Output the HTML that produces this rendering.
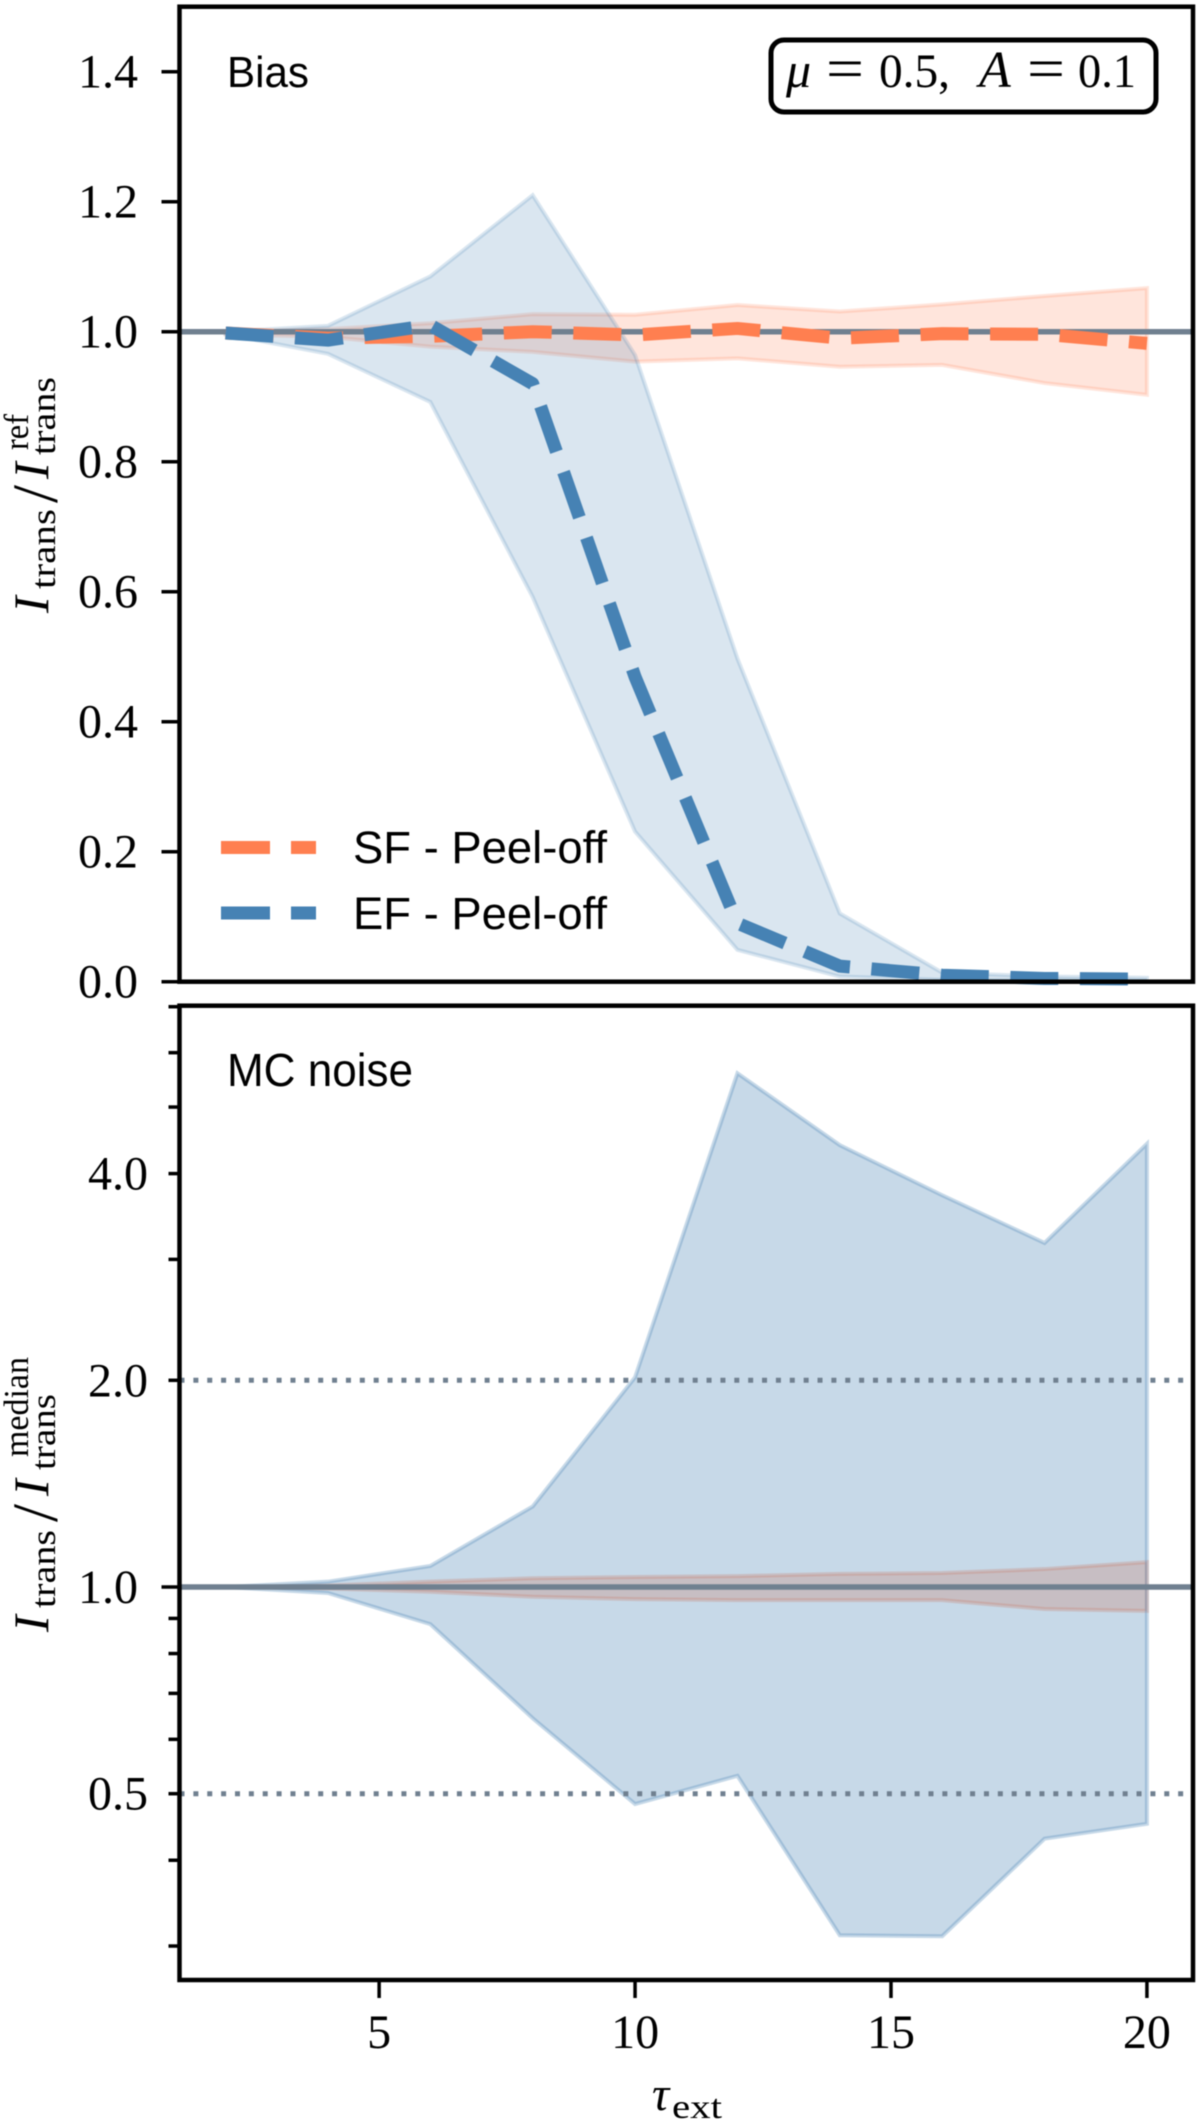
<!DOCTYPE html>
<html lang="en">
<head>
<meta charset="utf-8">
<title>Bias and MC noise vs optical depth</title>
<style>
html,body{margin:0;padding:0;background:#fff;}
svg{display:block;filter:blur(0.5px);}
text{fill:#000;}
.num{font-family:"Liberation Serif",serif;font-size:48px;}
.it{font-family:"Liberation Serif",serif;font-style:italic;}
.rm{font-family:"Liberation Serif",serif;}
.sans{font-family:"Liberation Sans",sans-serif;}
</style>
</head>
<body>
<svg id="chart" xmlns="http://www.w3.org/2000/svg" width="1200" height="2122" viewBox="0 0 1200 2122">
  <rect x="0" y="0" width="1200" height="2122" fill="#fff"/>
  <g id="bands"></g>
  <g id="marks"></g>
  <g id="frames"></g>
  <g id="ticks"></g>
  <g id="ticklabels"></g>

  <text class="sans" x="227" y="87" font-size="44" textLength="82" lengthAdjust="spacingAndGlyphs">Bias</text>
  <text class="sans" x="227" y="1086" font-size="46" textLength="186" lengthAdjust="spacingAndGlyphs">MC noise</text>

  <g>
    <rect x="771" y="40" width="385" height="72" rx="13" ry="13" fill="#fff" stroke="#000" stroke-width="5"/>
    <text class="it" x="786" y="87" font-size="50">μ</text>
    <text class="rm" x="826" y="88" font-size="58" textLength="38" lengthAdjust="spacingAndGlyphs">=</text>
    <text class="num" x="879" y="87" textLength="71" lengthAdjust="spacingAndGlyphs">0.5,</text>
    <text class="it" x="979" y="87" font-size="52">A</text>
    <text class="rm" x="1027" y="88" font-size="58" textLength="38" lengthAdjust="spacingAndGlyphs">=</text>
    <text class="num" x="1078" y="87" textLength="58" lengthAdjust="spacingAndGlyphs">0.1</text>
  </g>

  <g>
    <line x1="221" x2="316" y1="847.5" y2="847.5" stroke="#ff7f50" stroke-width="13" stroke-dasharray="49 21"/>
    <text class="sans" x="353" y="863" font-size="45" textLength="254" lengthAdjust="spacingAndGlyphs">SF - Peel-off</text>
    <line x1="221" x2="316" y1="913" y2="913" stroke="#4682b4" stroke-width="13" stroke-dasharray="49 21"/>
    <text class="sans" x="353" y="929" font-size="45" textLength="254" lengthAdjust="spacingAndGlyphs">EF - Peel-off</text>
  </g>

  <g transform="translate(48,613) rotate(-90)">
    <text class="it" x="0" y="0" font-size="50">I</text>
    <text class="rm" x="24" y="7" font-size="35" textLength="80" lengthAdjust="spacingAndGlyphs">trans</text>
    <text class="rm" x="110" y="9" font-size="65">/</text>
    <text class="it" x="134" y="0" font-size="50">I</text>
    <text class="rm" x="163" y="-20" font-size="35" textLength="36" lengthAdjust="spacingAndGlyphs">ref</text>
    <text class="rm" x="158" y="7" font-size="35" textLength="78" lengthAdjust="spacingAndGlyphs">trans</text>
  </g>

  <g transform="translate(48,1632) rotate(-90)">
    <text class="it" x="0" y="0" font-size="50">I</text>
    <text class="rm" x="24" y="7" font-size="35" textLength="78" lengthAdjust="spacingAndGlyphs">trans</text>
    <text class="rm" x="110" y="9" font-size="65">/</text>
    <text class="it" x="136" y="0" font-size="50">I</text>
    <text class="rm" x="175" y="-20" font-size="35" textLength="100" lengthAdjust="spacingAndGlyphs">median</text>
    <text class="rm" x="162" y="7" font-size="35" textLength="76" lengthAdjust="spacingAndGlyphs">trans</text>
  </g>

  <g>
    <text class="it" x="652" y="2110" font-size="48">τ</text>
    <text class="rm" x="672" y="2118" font-size="34" textLength="50" lengthAdjust="spacingAndGlyphs">ext</text>
  </g>
</svg>

<script>
// Shared x values (optical depth)
const tauExt = [2, 4, 6, 8, 10, 12, 14, 16, 18, 20];

// Bias panel
const biasEfMean = [0.998, 0.987, 1.010, 0.920, 0.469, 0.090, 0.024, 0.010, 0.005, 0.004];
const biasEfUpper = [1.000, 1.009, 1.085, 1.210, 0.964, 0.497, 0.105, 0.014, 0.008, 0.006];
const biasEfLower = [0.996, 0.966, 0.892, 0.592, 0.231, 0.049, 0.008, 0.003, 0.002, 0.002];
const biasSfMean = [0.998, 0.990, 0.993, 1.000, 0.995, 1.005, 0.990, 0.997, 0.996, 0.982];
const biasSfUpper = [1.000, 1.004, 1.013, 1.027, 1.026, 1.041, 1.031, 1.042, 1.055, 1.067];
const biasSfLower = [0.996, 0.992, 0.977, 0.969, 0.954, 0.959, 0.946, 0.949, 0.921, 0.903];

// MC noise panel
const noiseEfUpper = [1.000, 1.018, 1.073, 1.310, 2.020, 5.600, 4.400, 3.720, 3.170, 4.420];
const noiseEfLower = [1.000, 0.980, 0.883, 0.644, 0.483, 0.531, 0.311, 0.310, 0.430, 0.452];
const noiseSfUpper = [1.000, 1.005, 1.018, 1.030, 1.034, 1.037, 1.045, 1.048, 1.062, 1.087];
const noiseSfLower = [1.000, 0.995, 0.984, 0.968, 0.960, 0.957, 0.957, 0.957, 0.929, 0.923];

// Tick values and labels
const biasTicks = [0, 0.2, 0.4, 0.6, 0.8, 1.0, 1.2, 1.4];
const biasTickLabels = ["0.0", "0.2", "0.4", "0.6", "0.8", "1.0", "1.2", "1.4"];
const noiseMajorTicks = [1];
const noiseMajorLabels = ["1.0"];
const noiseLabelledMinorTicks = [0.5, 2, 4];
const noiseLabelledMinorLabels = ["0.5", "2.0", "4.0"];
const noiseMinorTicks = [0.3, 0.4, 0.6, 0.7, 0.8, 0.9, 3, 5, 6, 7];
const xTicks = [5, 10, 15, 20];
const xTickLabels = ["5", "10", "15", "20"];
const noiseGuides = [0.5, 2];
const referenceLevel = [1];

// Axis domain limits
const xLimits = [1.1, 20.9];
const biasLimits = [0, 1.5];

const NS = 'http://www.w3.org/2000/svg';
const left = 179.5, right = 1193;
const topA = 981.7, topB = 6.7;
const botTop = 1005.7, botBase = 1980;

function xScale(v) {
  return left + (v - xLimits[0]) / (xLimits[1] - xLimits[0]) * (right - left);
}
function yBias(v) {
  return topA + (v - biasLimits[0]) / (biasLimits[1] - biasLimits[0]) * (topB - topA);
}
function yNoise(v) {
  return 1587 - 206.7 * Math.log2(v);
}
function make(tag, attrs, parent) {
  const n = document.createElementNS(NS, tag);
  for (const k in attrs) n.setAttribute(k, attrs[k]);
  document.getElementById(parent).appendChild(n);
  return n;
}
function bandPoints(upper, lower, yf) {
  const a = tauExt.map((t, i) => xScale(t).toFixed(2) + ',' + yf(upper[i]).toFixed(2));
  const b = tauExt.map((t, i) => xScale(t).toFixed(2) + ',' + yf(lower[i]).toFixed(2)).reverse();
  return a.concat(b).join(' ');
}
function linePoints(values, yf) {
  return tauExt.map((t, i) => xScale(t).toFixed(2) + ',' + yf(values[i]).toFixed(2)).join(' ');
}
function band(upper, lower, yf, color, op) {
  return make('polygon', {
    points: bandPoints(upper, lower, yf), fill: color, 'fill-opacity': op,
    stroke: color, 'stroke-opacity': op, 'stroke-width': 4, 'stroke-linejoin': 'miter'
  }, 'bands');
}
function meanLine(values, yf, color) {
  return make('polyline', {
    points: linePoints(values, yf), fill: 'none', stroke: color,
    'stroke-width': 13, 'stroke-dasharray': '48 21.6', 'stroke-linejoin': 'round'
  }, 'marks');
}
function hline(y, w, dash) {
  const attrs = { x1: left, x2: right, y1: y, y2: y, stroke: '#708090', 'stroke-width': w };
  if (dash) attrs['stroke-dasharray'] = dash;
  return make('line', attrs, 'marks');
}
function yTick(y, len) {
  return make('line', { x1: left - len, x2: left, y1: y, y2: y, stroke: '#000', 'stroke-width': 3.5 }, 'ticks');
}
function yLabel(y, x, s) {
  const t = make('text', { x: x, y: y + 16, 'text-anchor': 'end', class: 'num' }, 'ticklabels');
  t.textContent = s;
  return t;
}

// Bias panel bands: orange below, blue on top
const b2 = band(biasSfUpper, biasSfLower, yBias, '#ff7f50', 0.2);


const b1 = band(biasEfUpper, biasEfLower, yBias, '#4682b4', 0.2);



// Noise panel bands: orange below, blue on top
const b4 = band(noiseSfUpper, noiseSfLower, yNoise, '#ff7f50', 0.3);


const b3 = band(noiseEfUpper, noiseEfLower, yNoise, '#4682b4', 0.3);



// Reference lines
const r1 = hline(yBias(referenceLevel[0]), 5.5);


const r2 = hline(yNoise(referenceLevel[0]), 5.5);


noiseGuides.forEach(function (v) {
  const g = hline(yNoise(v), 5, '5 8.87');
  
  
});

// Mean lines
const m1 = meanLine(biasSfMean, yBias, '#ff7f50');


const m2 = meanLine(biasEfMean, yBias, '#4682b4');



// Axes frames
const f1 = make('rect', { x: left, y: topB, width: right - left, height: topA - topB, fill: 'none', stroke: '#000', 'stroke-width': 4.5 }, 'frames');


const f2 = make('rect', { x: left, y: botTop, width: right - left, height: botBase - botTop, fill: 'none', stroke: '#000', 'stroke-width': 4.5 }, 'frames');



// Bias y ticks and labels
biasTicks.forEach(function (v, i) {
  const t = yTick(yBias(v), 18);
  
  
  const l = yLabel(yBias(v), 138, biasTickLabels[i]);
  
  
});

// Noise y ticks and labels
noiseMajorTicks.forEach(function (v, i) {
  const t = yTick(yNoise(v), 18);
  
  
  const l = yLabel(yNoise(v), 138, noiseMajorLabels[i]);
  
  
});
noiseLabelledMinorTicks.forEach(function (v, i) {
  const t = yTick(yNoise(v), 11);
  
  
  const l = yLabel(yNoise(v), 148, noiseLabelledMinorLabels[i]);
  
  
});
noiseMinorTicks.forEach(function (v) {
  const t = yTick(yNoise(v), 11);
  
  
});

// X ticks and labels
xTicks.forEach(function (v, i) {
  const t = make('line', { x1: xScale(v), x2: xScale(v), y1: botBase, y2: botBase + 18, stroke: '#000', 'stroke-width': 3.5 }, 'ticks');
  
  
  const l = make('text', { x: xScale(v), y: 2048, 'text-anchor': 'middle', class: 'num' }, 'ticklabels');
  l.textContent = xTickLabels[i];
  
  
});
</script>
</body>
</html>
